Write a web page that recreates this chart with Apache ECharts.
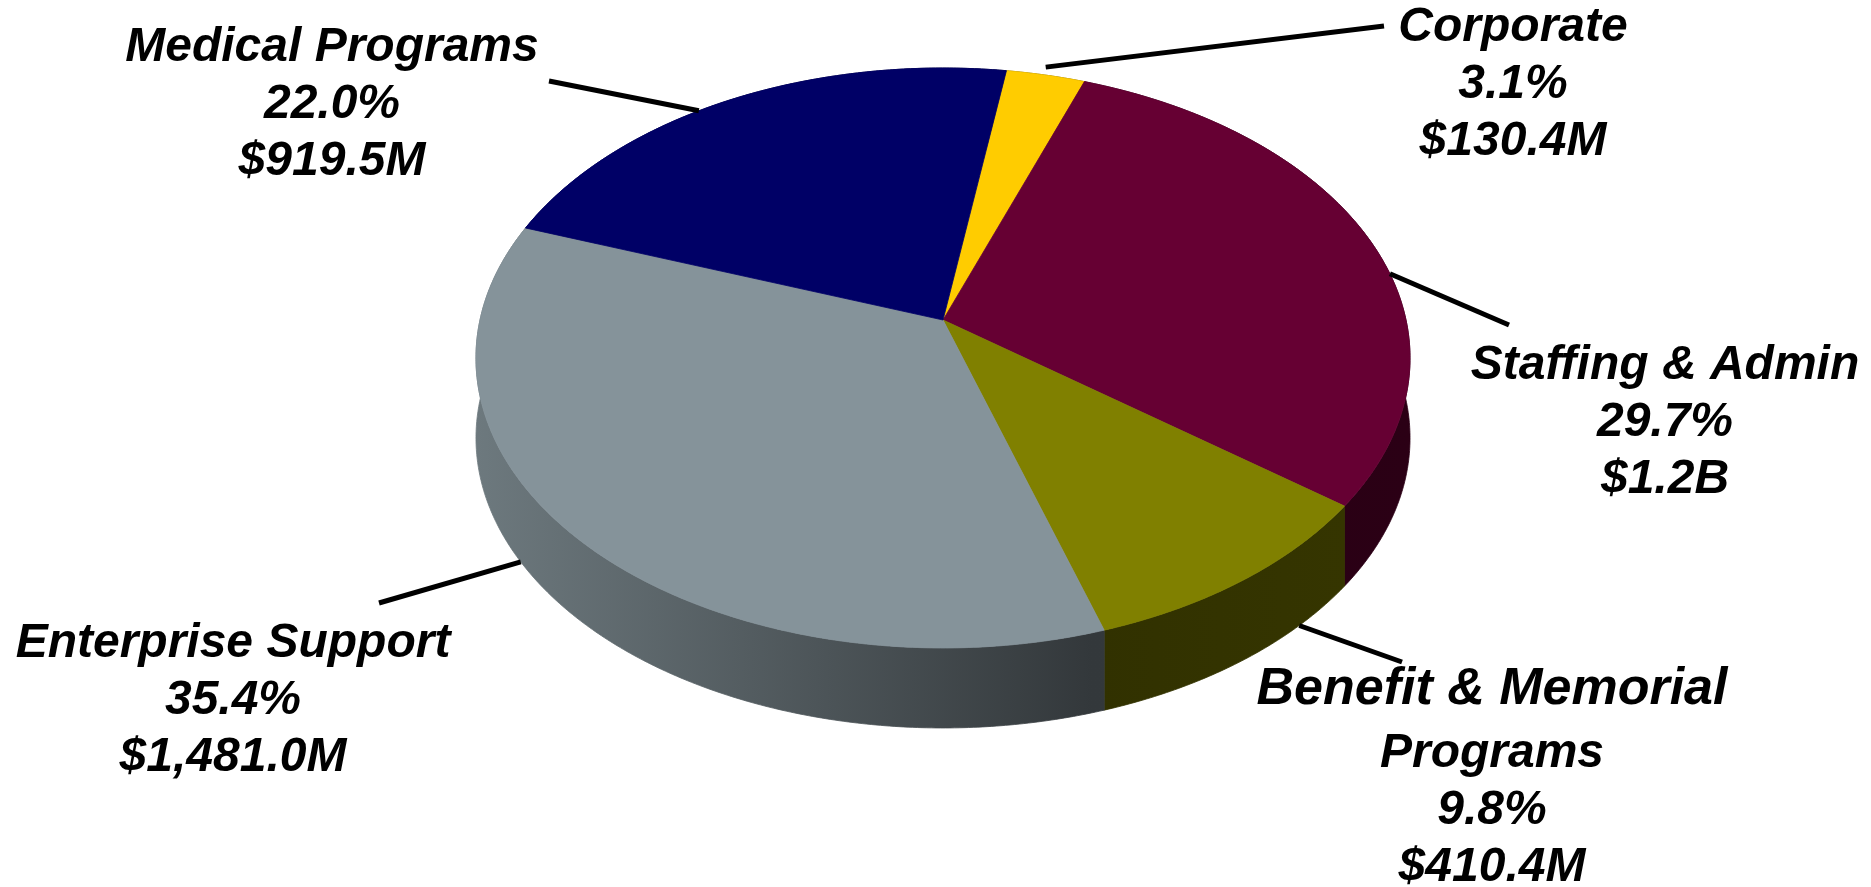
<!DOCTYPE html>
<html><head><meta charset="utf-8">
<script src="https://cdn.jsdelivr.net/npm/echarts@6/dist/echarts.min.js"></script>
<style>html,body{margin:0;padding:0;background:#fff;}#chart{width:1871px;height:887px;}</style>
</head><body><div id="chart"></div>
<script>
// ---- data ----
const categories = ['Corporate', 'Staffing & Admin', 'Benefit & Memorial Programs', 'Enterprise Support', 'Medical Programs'];
const percents = [3.1, 29.7, 9.8, 35.4, 22.0];
const amounts = ['$130.4M', '$1.2B', '$410.4M', '$1,481.0M', '$919.5M'];
const colors = ['#FFCC00', '#660033', '#808000', '#85939A', '#000066'];

// ---- layout ----
const START_ANGLE = 8.9; // degrees clockwise from 12 o'clock
const PIE = { cx: 943, cy: 320, rx: 463, a: 285, b: 0.131, depth: 80 };
const FAMILY = '"Liberation Sans", Arial, sans-serif';
const LINE_H = 57;
// label first-line centre, leader end, leader anchor (fraction of slice, fraction of wall depth)
const labelLayout = [
  { x: 1513, y: 28,  ex: 1384, ey: 26,  frac: 0.5,   dep: -0.1 },
  { x: 1665, y: 366, ex: 1509, ey: 325, frac: 0.565, dep: 0 },
  { x: 1492, y: 690, ex: 1402, ey: 662, frac: 0.25,  dep: 1 },
  { x: 233,  y: 644, ex: 379,  ey: 603, frac: 0.595, dep: 1 },
  { x: 332,  y: 48,  ex: 549,  ey: 81,  frac: 0.437, dep: 0 }
];

const total = percents.reduce((s, v) => s + v, 0);
const startAngles = [];
(function () { let acc = START_ANGLE; percents.forEach(p => { startAngles.push(acc); acc += p / total * 360; }); })();

function proj(deg, depthFrac) {
  const t = deg * Math.PI / 180;
  const u = Math.sin(t), v = -Math.cos(t);
  const w = 1 - PIE.b * v;
  return [PIE.cx + PIE.rx * u / w, PIE.cy + PIE.a * v / w + PIE.depth * depthFrac];
}
function arc(a0, a1, depthFrac) {
  const n = Math.max(2, Math.ceil((a1 - a0) / 0.5));
  const pts = [];
  for (let k = 0; k <= n; k++) pts.push(proj(a0 + (a1 - a0) * k / n, depthFrac));
  return pts;
}
function shade(hex, f) {
  const r = parseInt(hex.slice(1, 3), 16), g = parseInt(hex.slice(3, 5), 16), b = parseInt(hex.slice(5, 7), 16);
  const c = x => Math.round(x * f).toString(16).padStart(2, '0');
  return '#' + c(r) + c(g) + c(b);
}
function wrapLines(name) {
  if (name.length <= 20) return [name];
  const idx = name.lastIndexOf(' ', 20);
  return [name.slice(0, idx), name.slice(idx + 1)];
}

const seriesData = percents.map((p, i) => ({ name: categories[i], value: [p] }));
function span(api) { return api.value(0) / total * 360; }

const baseTxt = { fontStyle: 'italic', fontWeight: 'bold', fontFamily: FAMILY, fill: '#000' };
const rich = {
  n: Object.assign({ fontSize: 48, lineHeight: LINE_H }, baseTxt),
  big: Object.assign({ fontSize: 52, lineHeight: 70 }, baseTxt)
};

const chart = echarts.init(document.getElementById('chart'), null, { renderer: 'canvas' });
chart.setOption({
  backgroundColor: '#ffffff',
  animation: false,
  series: [
    {
      type: 'custom', name: 'sides', coordinateSystem: 'none', silent: true, z: 1,
      data: seriesData,
      renderItem: function (params, api) {
        const i = params.dataIndex;
        const a0 = startAngles[i], a1 = a0 + span(api);
        const pts = arc(a0, a1, 0).concat(arc(a0, a1, 1).reverse());
        const c = colors[i];
        const grad = {
          type: 'linear', x: PIE.cx - PIE.rx * 1.01, y: 0, x2: PIE.cx + PIE.rx * 1.01, y2: 0, global: true,
          colorStops: [
            { offset: 0, color: shade(c, 0.82) },
            { offset: 0.66, color: shade(c, 0.38) },
            { offset: 1, color: shade(c, 0.42) }
          ]
        };
        return { type: 'polygon', shape: { points: pts }, style: { fill: grad, stroke: grad, lineWidth: 0.8 } };
      }
    },
    {
      type: 'custom', name: 'tops', coordinateSystem: 'none', silent: true, z: 2,
      data: seriesData,
      renderItem: function (params, api) {
        const i = params.dataIndex;
        const a0 = startAngles[i], a1 = a0 + span(api);
        const pts = [[PIE.cx, PIE.cy]].concat(arc(a0, a1, 0));
        return { type: 'polygon', shape: { points: pts }, style: { fill: colors[i], stroke: colors[i], lineWidth: 0.8 } };
      }
    },
    {
      type: 'custom', name: 'labels', coordinateSystem: 'none', silent: true, z: 3,
      data: seriesData,
      renderItem: function (params, api) {
        const i = params.dataIndex;
        const L = labelLayout[i];
        const a0 = startAngles[i], s = span(api);
        const p = proj(a0 + s * L.frac, L.dep);
        const nameLines = wrapLines(categories[i]);
        const parts = [];
        let topOffset = LINE_H / 2;
        if (nameLines.length > 1) {
          parts.push('{big|' + nameLines[0] + '}');
          parts.push('{n|' + nameLines[1] + '}');
          topOffset = 35;
        } else {
          parts.push('{n|' + nameLines[0] + '}');
        }
        parts.push('{n|' + api.value(0).toFixed(1) + '%}');
        parts.push('{n|' + amounts[i] + '}');
        return {
          type: 'group',
          children: [
            { type: 'line', shape: { x1: p[0], y1: p[1], x2: L.ex, y2: L.ey }, style: { stroke: '#000', lineWidth: 5 } },
            {
              type: 'text',
              style: {
                text: parts.join('\n'), x: L.x, y: L.y - topOffset,
                rich: rich, fontSize: 48, fontStyle: 'italic', fontWeight: 'bold', fontFamily: FAMILY, fill: '#000',
                align: 'center', verticalAlign: 'top', textAlign: 'center', textVerticalAlign: 'top'
              }
            }
          ]
        };
      }
    }
  ]
});
</script>
</body></html>
